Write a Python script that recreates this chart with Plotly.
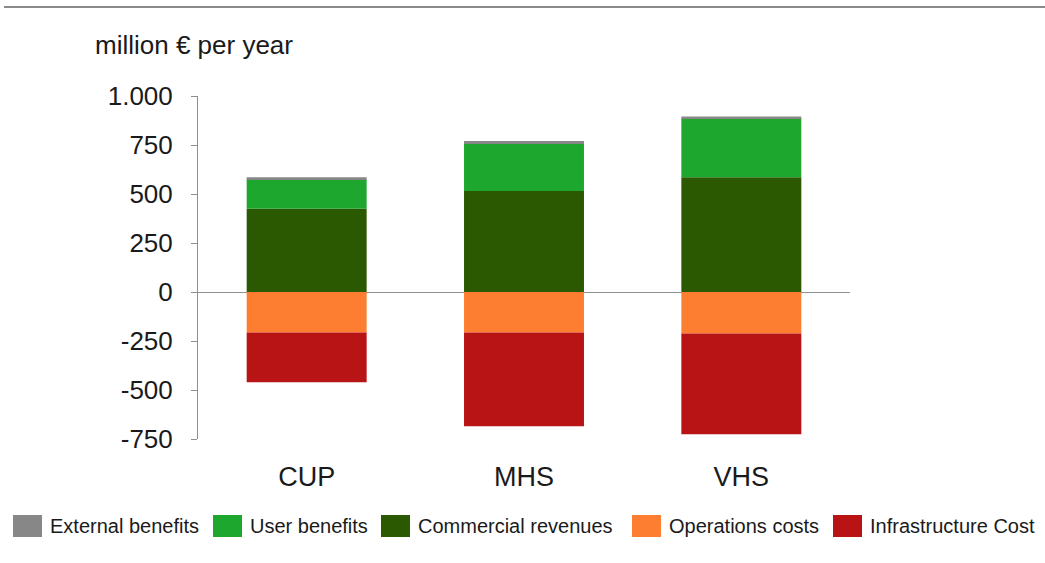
import plotly.graph_objects as go

# Annual benefits and costs per scenario (million € per year)
scenarios = ["CUP", "MHS", "VHS"]
commercial_revenues = [425, 515, 585]
user_benefits = [150, 240, 300]
external_benefits = [10, 15, 10]
operations_costs = [-207, -207, -212]
infrastructure_cost = [-254, -478, -514]

y_ticks = [-750, -500, -250, 0, 250, 500, 750, 1000]
y_tick_labels = ["-750", "-500", "-250", "0", "250", "500", "750", "1.000"]

series = [
    ("Commercial revenues", commercial_revenues, "#2b5902"),
    ("User benefits", user_benefits, "#1ea72f"),
    ("External benefits", external_benefits, "#878787"),
    ("Operations costs", operations_costs, "#fd7e30"),
    ("Infrastructure Cost", infrastructure_cost, "#b81416"),
]
legend_order = ["External benefits", "User benefits", "Commercial revenues",
                "Operations costs", "Infrastructure Cost"]

W, H = 1045, 563
L, R, T, B = 198, 195, 96, 124
plot_w = W - L - R
plot_h = H - T - B


def px_x(px):
    return (px - L) / plot_w


def px_y(py):
    return (H - B - py) / plot_h


fig = go.Figure()
for name, vals, color in series:
    fig.add_trace(go.Bar(x=scenarios, y=vals, name=name, marker_color=color,
                         marker_line_width=0, showlegend=False))

font_family = "Liberation Sans, Arial, sans-serif"
text_color = "#1a1a1a"
axis_color = "#8f8f8f"

shapes = [
    # rule across the top of the page
    dict(type="line", xref="paper", yref="paper", x0=px_x(4), x1=px_x(1045),
         y0=px_y(7), y1=px_y(7), line=dict(color="#8a8a8a", width=2)),
]
annotations = [
    dict(text="million € per year", xref="paper", yref="paper",
         x=px_x(93), y=px_y(45), xanchor="left", yanchor="middle",
         showarrow=False, font=dict(size=26, color=text_color, family=font_family)),
]

# hand-built legend row with large square swatches
colors = {n: c for n, _, c in series}
swatch_x = [13, 213, 381, 632, 833]
for name, sx in zip(legend_order, swatch_x):
    shapes.append(dict(type="rect", xref="paper", yref="paper",
                       x0=px_x(sx), x1=px_x(sx + 29), y0=px_y(537), y1=px_y(515),
                       fillcolor=colors[name], line=dict(width=0)))
    annotations.append(dict(text=name, xref="paper", yref="paper",
                            x=px_x(sx + 35), y=px_y(526), xanchor="left",
                            yanchor="middle", showarrow=False,
                            font=dict(size=20, color=text_color, family=font_family)))

fig.update_layout(
    width=W, height=H,
    margin=dict(l=L, r=R, t=T, b=B),
    barmode="relative",
    bargap=0.448,
    plot_bgcolor="white",
    paper_bgcolor="white",
    font=dict(family=font_family, color=text_color),
    shapes=shapes,
    annotations=annotations,
    xaxis=dict(showline=False, showgrid=False, ticks="",
               tickfont=dict(size=27, color=text_color),
               ticklabelstandoff=19),
    yaxis=dict(range=[-750, 1000], tickvals=y_ticks, ticktext=y_tick_labels,
               showgrid=False, showline=True, linecolor=axis_color, linewidth=1,
               ticks="outside", ticklen=6, tickcolor=axis_color,
               zeroline=True, zerolinecolor=axis_color, zerolinewidth=1,
               tickfont=dict(size=26, color=text_color),
               ticklabelstandoff=13),
)

fig.write_html("out.html")
